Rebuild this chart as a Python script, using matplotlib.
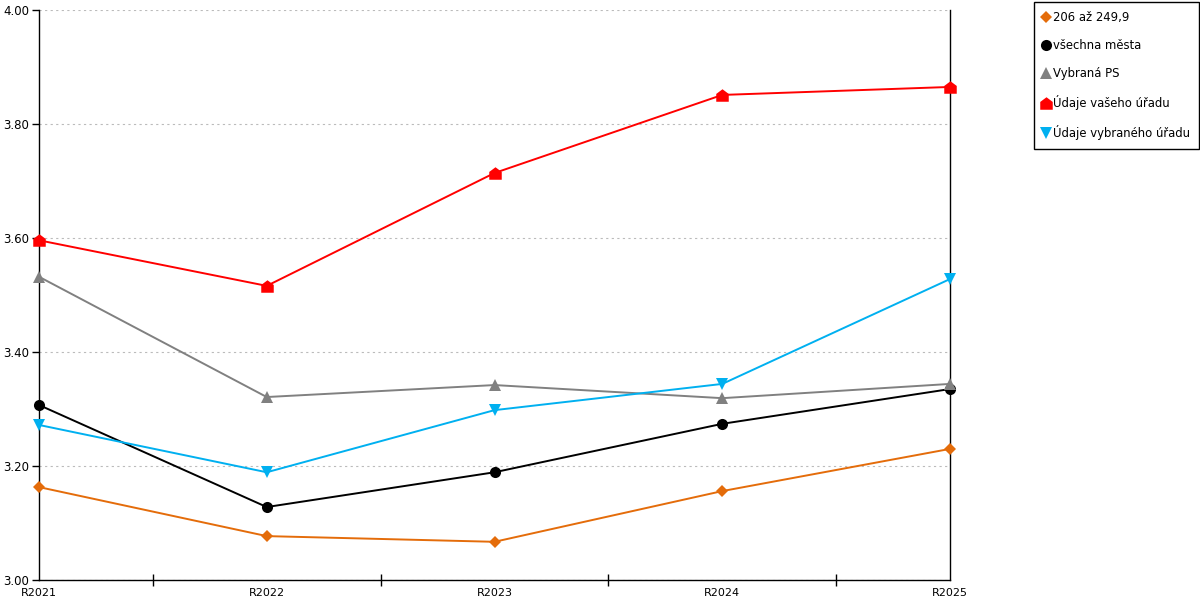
import matplotlib
matplotlib.use("Agg")
import matplotlib.pyplot as plt
from matplotlib.path import Path
from matplotlib.lines import Line2D

# -------- Data --------
years = ["R2021", "R2022", "R2023", "R2024", "R2025"]
skupina = [3.163, 3.077, 3.067, 3.156, 3.230]      # 206 až 249,9
vsechna = [3.307, 3.128, 3.189, 3.274, 3.335]      # všechna města
vybrana_ps = [3.532, 3.321, 3.342, 3.319, 3.344]   # Vybraná PS
vas_urad = [3.596, 3.516, 3.714, 3.851, 3.865]     # Údaje vašeho úřadu
vybrany_urad = [3.272, 3.189, 3.298, 3.344, 3.528] # Údaje vybraného úřadu

y_ticks = [3.0, 3.2, 3.4, 3.6, 3.8, 4.0]

# house-shaped marker
house = Path([(-1, -1), (1, -1), (1, 0.25), (0, 1), (-1, 0.25), (-1, -1)],
             [Path.MOVETO, Path.LINETO, Path.LINETO, Path.LINETO, Path.LINETO, Path.CLOSEPOLY])

series = [
    ("206 až 249,9", skupina, "#e46c0a", "D", 6),
    ("všechna města", vsechna, "#000000", "o", 8),
    ("Vybraná PS", vybrana_ps, "#808080", "^", 8),
    ("Údaje vašeho úřadu", vas_urad, "#ff0000", house, 9),
    ("Údaje vybraného úřadu", vybrany_urad, "#00b0f0", "v", 8),
]

plt.rcParams["font.family"] = ["DejaVu Sans"]
plt.rcParams["font.size"] = 8

fig = plt.figure(figsize=(12, 6), dpi=100)
ax = fig.add_axes([39 / 1200, 20 / 600, (950 - 39) / 1200, 570 / 600])

x = list(range(len(years)))
handles = []
for label, vals, color, marker, ms in series:
    ax.plot(x, vals, color=color, lw=1.4, marker=marker, markersize=ms,
            markeredgewidth=0, clip_on=False, zorder=3)
    handles.append(Line2D([], [], color=color, marker=marker, markersize=ms,
                          markeredgewidth=0, linestyle="none", label=label))

ax.set_xlim(0, 4)
ax.set_ylim(3.0, 4.0)
ax.set_xticks(x)
ax.set_xticklabels(years)
ax.set_xticks([0.5, 1.5, 2.5, 3.5], minor=True)
ax.tick_params(axis="x", which="minor", direction="inout", length=8, width=1)
ax.tick_params(axis="x", which="major", length=0, pad=6)
ax.set_yticks(y_ticks)
ax.set_yticklabels([f"{v:.2f}" for v in y_ticks])
ax.tick_params(axis="y", direction="out", length=5, width=1, pad=2, labelsize=8.5)
ax.yaxis.grid(True, color="#bbbbbb", linestyle=(0, (2, 3)), linewidth=0.8)
ax.set_axisbelow(True)

ax.spines["top"].set_visible(False)
for s in ["left", "right", "bottom"]:
    ax.spines[s].set_color("black")
    ax.spines[s].set_linewidth(1)

leg = fig.legend(handles=handles, loc="upper left", bbox_to_anchor=(1034 / 1200, 1 - 2 / 600),
                 borderaxespad=0, fancybox=False, edgecolor="black", framealpha=1,
                 labelspacing=1.3, handlelength=0.6, handletextpad=0.3,
                 borderpad=0.75, fontsize=8.4)
leg.get_frame().set_linewidth(1)

fig.savefig("out.png", dpi=100)
